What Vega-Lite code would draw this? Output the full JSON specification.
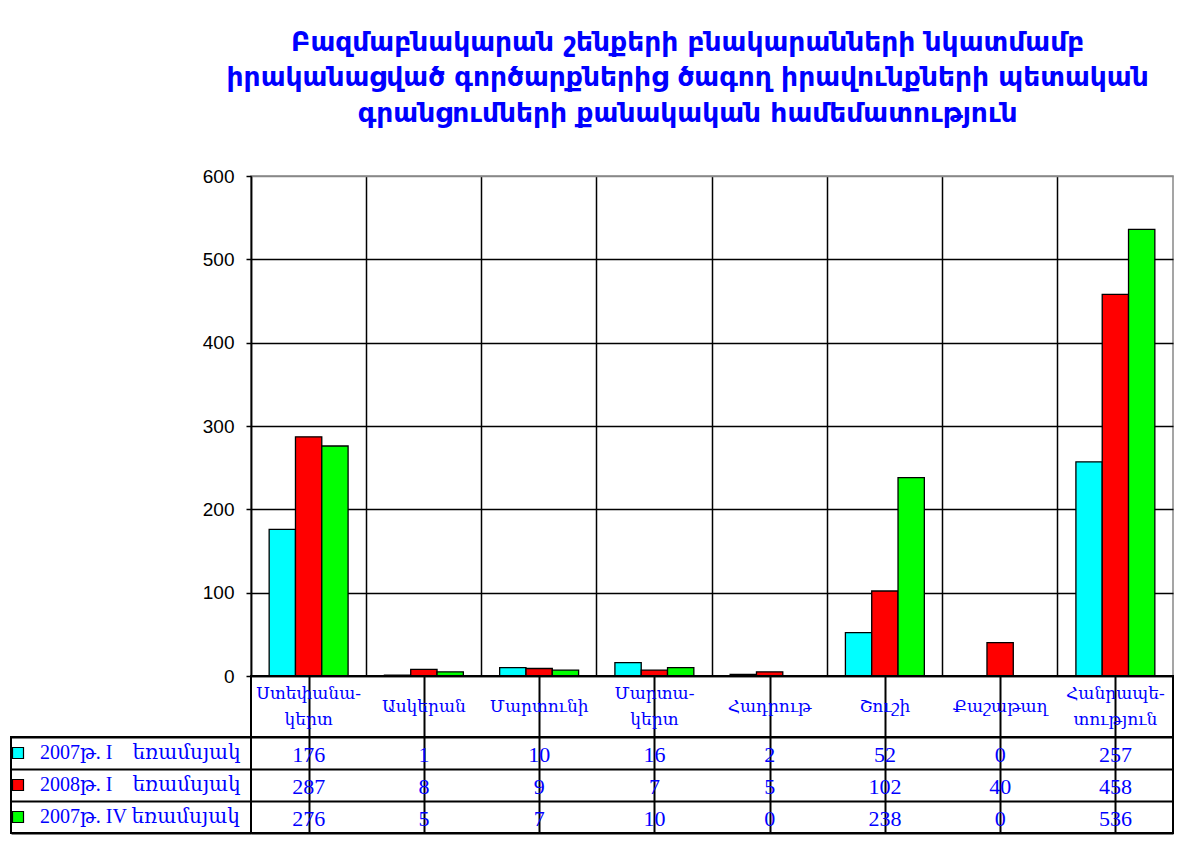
{
  "$schema": "https://vega.github.io/schema/vega-lite/v6.json",
  "padding": {"left": 10, "top": 28, "right": 10, "bottom": 10},
  "background": "white",
  "config": {"view": {"stroke": null}},
  "datasets": {
    "vals": [
      {"region": "Ստեփանա-\nկերտ", "series": "2007թ. I\u00a0\u00a0\u00a0\u00a0եռամսյակ", "value": 176},
      {"region": "Ստեփանա-\nկերտ", "series": "2008թ. I\u00a0\u00a0\u00a0\u00a0եռամսյակ", "value": 287},
      {"region": "Ստեփանա-\nկերտ", "series": "2007թ. IV եռամսյակ", "value": 276},
      {"region": "Ասկերան", "series": "2007թ. I\u00a0\u00a0\u00a0\u00a0եռամսյակ", "value": 1},
      {"region": "Ասկերան", "series": "2008թ. I\u00a0\u00a0\u00a0\u00a0եռամսյակ", "value": 8},
      {"region": "Ասկերան", "series": "2007թ. IV եռամսյակ", "value": 5},
      {"region": "Մարտունի", "series": "2007թ. I\u00a0\u00a0\u00a0\u00a0եռամսյակ", "value": 10},
      {"region": "Մարտունի", "series": "2008թ. I\u00a0\u00a0\u00a0\u00a0եռամսյակ", "value": 9},
      {"region": "Մարտունի", "series": "2007թ. IV եռամսյակ", "value": 7},
      {"region": "Մարտա-\nկերտ", "series": "2007թ. I\u00a0\u00a0\u00a0\u00a0եռամսյակ", "value": 16},
      {"region": "Մարտա-\nկերտ", "series": "2008թ. I\u00a0\u00a0\u00a0\u00a0եռամսյակ", "value": 7},
      {"region": "Մարտա-\nկերտ", "series": "2007թ. IV եռամսյակ", "value": 10},
      {"region": "Հադրութ", "series": "2007թ. I\u00a0\u00a0\u00a0\u00a0եռամսյակ", "value": 2},
      {"region": "Հադրութ", "series": "2008թ. I\u00a0\u00a0\u00a0\u00a0եռամսյակ", "value": 5},
      {"region": "Հադրութ", "series": "2007թ. IV եռամսյակ", "value": 0},
      {"region": "Շուշի", "series": "2007թ. I\u00a0\u00a0\u00a0\u00a0եռամսյակ", "value": 52},
      {"region": "Շուշի", "series": "2008թ. I\u00a0\u00a0\u00a0\u00a0եռամսյակ", "value": 102},
      {"region": "Շուշի", "series": "2007թ. IV եռամսյակ", "value": 238},
      {"region": "Քաշաթաղ", "series": "2007թ. I\u00a0\u00a0\u00a0\u00a0եռամսյակ", "value": 0},
      {"region": "Քաշաթաղ", "series": "2008թ. I\u00a0\u00a0\u00a0\u00a0եռամսյակ", "value": 40},
      {"region": "Քաշաթաղ", "series": "2007թ. IV եռամսյակ", "value": 0},
      {"region": "Հանրապե-\nտություն", "series": "2007թ. I\u00a0\u00a0\u00a0\u00a0եռամսյակ", "value": 257},
      {"region": "Հանրապե-\nտություն", "series": "2008թ. I\u00a0\u00a0\u00a0\u00a0եռամսյակ", "value": 458},
      {"region": "Հանրապե-\nտություն", "series": "2007թ. IV եռամսյակ", "value": 536}
    ],
    "regions": [
      {"region": "Ստեփանա-\nկերտ"},
      {"region": "Ասկերան"},
      {"region": "Մարտունի"},
      {"region": "Մարտա-\nկերտ"},
      {"region": "Հադրութ"},
      {"region": "Շուշի"},
      {"region": "Քաշաթաղ"},
      {"region": "Հանրապե-\nտություն"}
    ]
  },
  "columns": 2,
  "spacing": 0,
  "align": "each",
  "bounds": "flush",
  "resolve": {"legend": {"fill": "independent"}},
  "concat": [
    {
      "width": 240, "height": 500,
      "data": {"values": [{}]},
      "mark": {"type": "text", "text": ""},
      "view": {"stroke": null}
    },
    {
      "width": 922, "height": 500,
      "title": {
        "text": ["Բազմաբնակարան շենքերի բնակարանների նկատմամբ", "իրականացված գործարքներից ծագող իրավունքների պետական", "գրանցումների քանակական համեմատություն"],
        "font": "DejaVu Sans", "fontWeight": "bold", "fontSize": 26.5, "color": "#0000FF",
        "lineHeight": 35.5, "anchor": "middle", "frame": "bounds", "offset": 40
      },
      "data": {"name": "vals"},
      "mark": {"type": "bar", "stroke": "black", "strokeWidth": 1.3},
      "encoding": {
        "x": {"field": "region", "type": "nominal", "sort": null,
          "scale": {"paddingInner": 0, "paddingOuter": 0},
          "axis": {"title": null, "labels": false, "ticks": false, "domain": true, "domainColor": "black", "domainWidth": 1.5,
            "grid": true, "gridColor": "black", "gridWidth": 1.5, "bandPosition": 0}},
        "xOffset": {"field": "series", "type": "nominal", "sort": null,
          "scale": {"paddingInner": 0, "paddingOuter": 0.69}},
        "y": {"field": "value", "type": "quantitative",
          "scale": {"domain": [0, 600], "nice": false},
          "axis": {"title": null, "values": [0, 100, 200, 300, 400, 500, 600], "tickColor": "black", "tickSize": 5, "tickWidth": 1.5,
            "labelFont": "Liberation Sans", "labelFontSize": 19, "labelColor": "black", "labelPadding": 12,
            "grid": true, "gridColor": {"condition": {"test": "datum.value == 600", "value": "#888888"}, "value": "black"}, "gridWidth": 1.5,
            "domainColor": "black", "domainWidth": 1.5}},
        "fill": {"field": "series", "type": "nominal", "sort": null,
          "scale": {"domain": ["2007թ. I\u00a0\u00a0\u00a0\u00a0եռամսյակ", "2008թ. I\u00a0\u00a0\u00a0\u00a0եռամսյակ", "2007թ. IV եռամսյակ"], "range": ["#00FFFF", "#FF0000", "#00FF00"]},
          "legend": null}
      },
      "view": {"stroke": "#888888", "strokeWidth": 1.5}
    },
    {
      "width": 240, "height": 61,
      "data": {"values": [{}]},
      "mark": {"type": "text", "text": ""},
      "view": {"stroke": null}
    },
    {
      "width": 922, "height": 61,
      "data": {"name": "regions"},
      "encoding": {
        "x": {"field": "region", "type": "nominal", "sort": null,
          "scale": {"paddingInner": 0, "paddingOuter": 0,
            "domain": ["Ստեփանա-\nկերտ", "Ասկերան", "Մարտունի", "Մարտա-\nկերտ", "Հադրութ", "Շուշի", "Քաշաթաղ", "Հանրապե-\nտություն"]},
          "axis": {"title": null, "labels": false, "ticks": false, "domain": false, "grid": true, "gridColor": "black", "gridWidth": 2, "bandPosition": 0}},
        "text": {"field": "region"}
      },
      "layer": [
        {
          "transform": [{"filter": "indexof(datum.region, '\\n') < 0"}],
          "mark": {"type": "text", "font": "Liberation Serif, DejaVu Serif", "fontSize": 17, "color": "#0000FF", "baseline": "middle"}
        },
        {
          "transform": [{"filter": "indexof(datum.region, '\\n') >= 0"}],
          "mark": {"type": "text", "font": "Liberation Serif, DejaVu Serif", "fontSize": 17, "color": "#0000FF", "lineBreak": "\n", "baseline": "middle", "lineHeight": 26, "dy": -13}
        }
      ],
      "view": {"stroke": "black", "strokeWidth": 2}
    },
    {
      "width": 240, "height": 96,
      "data": {"name": "vals"},
      "mark": {"type": "point", "opacity": 0, "shape": "square", "filled": true},
      "encoding": {
        "y": {"field": "series", "type": "nominal", "sort": null,
          "scale": {"paddingInner": 0, "paddingOuter": 0},
          "axis": {"title": null, "labels": false, "ticks": false, "domain": false, "grid": true, "gridColor": "black", "gridWidth": 2, "tickBand": "extent"}},
        "fill": {"field": "series", "type": "nominal", "sort": null,
          "scale": {"domain": ["2007թ. I\u00a0\u00a0\u00a0\u00a0եռամսյակ", "2008թ. I\u00a0\u00a0\u00a0\u00a0եռամսյակ", "2007թ. IV եռամսյակ"], "range": ["#00FFFF", "#FF0000", "#00FF00"]},
          "legend": {"orient": "top-left", "title": null, "offset": 0, "padding": 0, "clipHeight": 32, "rowPadding": 0,
            "symbolType": "square", "symbolSize": 121, "symbolOffset": -3, "symbolStrokeColor": "black", "symbolStrokeWidth": 1.2, "symbolOpacity": 1,
            "labelFont": "Liberation Serif, DejaVu Serif", "labelFontSize": 20, "labelColor": "#0000FF", "labelOffset": 12, "labelLimit": 0}}
      },
      "view": {"stroke": "black", "strokeWidth": 2}
    },
    {
      "width": 922, "height": 96,
      "data": {"name": "vals"},
      "mark": {"type": "text", "font": "Liberation Serif", "fontSize": 22, "color": "#0000FF", "baseline": "middle", "dy": 2},
      "encoding": {
        "x": {"field": "region", "type": "nominal", "sort": null,
          "scale": {"paddingInner": 0, "paddingOuter": 0},
          "axis": {"title": null, "labels": false, "ticks": false, "domain": false, "grid": true, "gridColor": "black", "gridWidth": 2, "bandPosition": 0}},
        "y": {"field": "series", "type": "nominal", "sort": null,
          "scale": {"paddingInner": 0, "paddingOuter": 0},
          "axis": {"title": null, "labels": false, "ticks": false, "domain": false, "grid": true, "gridColor": "black", "gridWidth": 2, "tickBand": "extent"}},
        "text": {"field": "value"}
      },
      "view": {"stroke": "black", "strokeWidth": 2}
    }
  ]
}
